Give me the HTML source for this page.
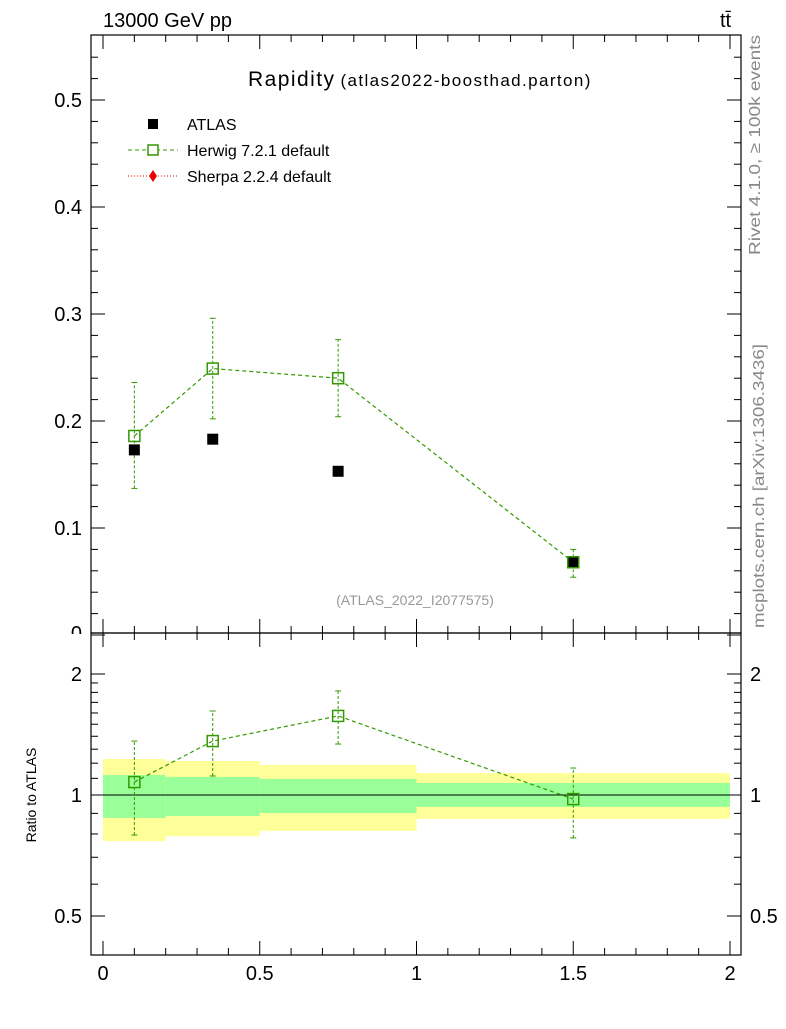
<!DOCTYPE html>
<html><head><meta charset="utf-8"><style>
body{margin:0;background:#fff;font-family:"Liberation Sans",sans-serif}
svg text{font-family:"Liberation Sans","DejaVu Sans",sans-serif}
</style></head><body>
<svg id="s" width="786" height="1024" xmlns="http://www.w3.org/2000/svg">
<g id="g"></g>
</svg>
<script>
const binLo=[0,0.2,0.5,1];
const binHi=[0.2,0.5,1,2];
const xCenters=[0.1,0.35,0.75,1.5];
const atlasVals=[0.173,0.183,0.153,0.068];
const herwigVals=[0.186,0.249,0.240,0.068];
const herwigLo=[0.137,0.202,0.204,0.054];
const herwigHi=[0.236,0.296,0.276,0.080];
const ratioVals=[1.077,1.362,1.573,0.977];
const ratioLo=[0.795,1.115,1.339,0.782];
const ratioHi=[1.362,1.618,1.815,1.167];
const yelLo=[0.768,0.79,0.814,0.872];
const yelHi=[1.229,1.215,1.188,1.134];
const grnLo=[0.877,0.887,0.902,0.934];
const grnHi=[1.121,1.109,1.096,1.071];
const mainTicks=[0.1,0.2,0.3,0.4,0.5];
const ratioTicks=[0.5,1,2];
const xTicks=[0,0.5,1,1.5,2];

const NS="http://www.w3.org/2000/svg",g=document.getElementById('g');
function el(t,a,txt){const e=document.createElementNS(NS,t);for(const k in a)e.setAttribute(k,a[k]);if(txt!==undefined)e.textContent=txt;g.appendChild(e);return e;}
const L=91,R=741,T=35,M=633,B=955;
const X=v=>103+v*313.5;
const Y=v=>635-v*1070;
const YR=v=>795-121*Math.log2(v);

for(let i=0;i<4;i++){
 let e=el('rect',{x:X(binLo[i]),y:YR(yelHi[i]),width:X(binHi[i])-X(binLo[i]),height:YR(yelLo[i])-YR(yelHi[i]),fill:'#ffff99'});
 
 e=el('rect',{x:X(binLo[i]),y:YR(grnHi[i]),width:X(binHi[i])-X(binLo[i]),height:YR(grnLo[i])-YR(grnHi[i]),fill:'#99ff99'});
 
}
el('line',{x1:L,x2:R,y1:YR(1),y2:YR(1),stroke:'#000','stroke-width':1});
let t=el('text',{x:82,y:640,'font-size':20,'text-anchor':'end'},'0');
el('rect',{x:60,y:634,width:30,height:12,fill:'#fff'});
let f=el('rect',{x:L,y:T,width:R-L,height:M-T,fill:'none',stroke:'#000','stroke-width':1.2});

f=el('rect',{x:L,y:M,width:R-L,height:B-M,fill:'none',stroke:'#000','stroke-width':1.2});

for(let v=0;v<=2.001;v+=0.1){
 const big=Math.abs(v*2-Math.round(v*2))<1e-6, len=big?14:7, x=X(v);
 for(const [y0,d] of [[M,-1],[M,1],[B,-1],[T,1]]) el('line',{x1:x,x2:x,y1:y0,y2:y0+d*len,stroke:'#000'});
}
xTicks.forEach(v=>{const t=el('text',{x:X(v),y:980,'font-size':20,'text-anchor':'middle'},String(v));});
for(let v=0;v<=0.56;v+=0.02){const y=Y(v);if(y<T)continue;const big=Math.abs(v*10-Math.round(v*10))<1e-6,len=big?14:7;
 el('line',{x1:L,x2:L+len,y1:y,y2:y,stroke:'#000'});el('line',{x1:R,x2:R-len,y1:y,y2:y,stroke:'#000'});}
mainTicks.forEach(v=>{const t=el('text',{x:82,y:Y(v)+7,'font-size':20,'text-anchor':'end'},String(v));});
[0.5,0.6,0.7,0.8,0.9,1,1.1,1.2,1.3,1.4,1.5,1.6,1.7,1.8,1.9,2].forEach(v=>{const big=ratioTicks.includes(v),len=big?14:7,y=YR(v);
 el('line',{x1:L,x2:L+len,y1:y,y2:y,stroke:'#000'});el('line',{x1:R,x2:R-len,y1:y,y2:y,stroke:'#000'});});
ratioTicks.forEach(v=>{let t=el('text',{x:82,y:YR(v)+7,'font-size':20,'text-anchor':'end'},String(v));
 t=el('text',{x:750,y:YR(v)+7,'font-size':20},String(v));});
t=el('text',{x:103,y:27,'font-size':20},'13000 GeV pp');
t=el('text',{x:720,y:27,'font-size':20},'tt̄');
t=el('text',{x:248,y:86,'font-size':21});t.innerHTML='<tspan textLength="86">Rapidity</tspan><tspan font-size="17" dx="5" textLength="250">(atlas2022-boosthad.parton)</tspan>';
t=el('text',{x:415,y:605,'font-size':14,fill:'#999','text-anchor':'middle'},'(ATLAS_2022_I2077575)');
t=el('text',{x:0,y:0,'font-size':16,fill:'#888',textLength:220,lengthAdjust:'spacingAndGlyphs',transform:'translate(760,255) rotate(-90)'},'Rivet 4.1.0, ≥ 100k events');
t=el('text',{x:0,y:0,'font-size':16,fill:'#888',textLength:284,lengthAdjust:'spacingAndGlyphs',transform:'translate(764,628) rotate(-90)'},'mcplots.cern.ch [arXiv:1306.3436]');
t=el('text',{x:0,y:0,'font-size':14,'text-anchor':'middle',transform:'translate(36,795) rotate(-90)'},'Ratio to ATLAS');
el('rect',{x:148,y:119,width:10,height:10,fill:'#000'});
el('text',{x:187,y:130,'font-size':16},'ATLAS');
el('line',{x1:128,x2:178,y1:150,y2:150,stroke:'#339900','stroke-dasharray':'4,3'});
el('rect',{x:148,y:145,width:10,height:10,fill:'#fff',stroke:'#339900','stroke-width':1.5});
el('text',{x:187,y:156,'font-size':16},'Herwig 7.2.1 default');
el('line',{x1:128,x2:178,y1:176,y2:176,stroke:'#e00','stroke-dasharray':'1,2'});
el('path',{d:'M153,170 L157,176 L153,182 L149,176Z',fill:'#e00'});
el('text',{x:187,y:182,'font-size':16},'Sherpa 2.2.4 default');
const hp=xCenters.map((x,i)=>X(x)+','+Y(herwigVals[i])).join(' ');
el('polyline',{points:hp,fill:'none',stroke:'#339900','stroke-dasharray':'4,3','stroke-width':1.2});
const rp=xCenters.map((x,i)=>X(x)+','+YR(ratioVals[i])).join(' ');
el('polyline',{points:rp,fill:'none',stroke:'#339900','stroke-dasharray':'4,3','stroke-width':1.2});
for(let i=0;i<4;i++){
 const x=X(xCenters[i]);
 el('line',{x1:x,x2:x,y1:Y(herwigLo[i]),y2:Y(herwigHi[i]),stroke:'#339900','stroke-dasharray':'3,2'});
 el('line',{x1:x-3,x2:x+3,y1:Y(herwigLo[i]),y2:Y(herwigLo[i]),stroke:'#339900'});
 el('line',{x1:x-3,x2:x+3,y1:Y(herwigHi[i]),y2:Y(herwigHi[i]),stroke:'#339900'});
 let a=el('rect',{x:x-5.5,y:Y(atlasVals[i])-5.5,width:11,height:11,fill:'#000'});
 
 let h=el('rect',{x:x-5.5,y:Y(herwigVals[i])-5.5,width:11,height:11,fill:'none',stroke:'#339900','stroke-width':1.5});
 
 el('line',{x1:x,x2:x,y1:YR(ratioLo[i]),y2:YR(ratioHi[i]),stroke:'#339900','stroke-dasharray':'3,2'});
 el('line',{x1:x-3,x2:x+3,y1:YR(ratioLo[i]),y2:YR(ratioLo[i]),stroke:'#339900'});
 el('line',{x1:x-3,x2:x+3,y1:YR(ratioHi[i]),y2:YR(ratioHi[i]),stroke:'#339900'});
 let r=el('rect',{x:x-5.5,y:YR(ratioVals[i])-5.5,width:11,height:11,fill:'none',stroke:'#339900','stroke-width':1.5});
 
}
</script>
</body></html>
